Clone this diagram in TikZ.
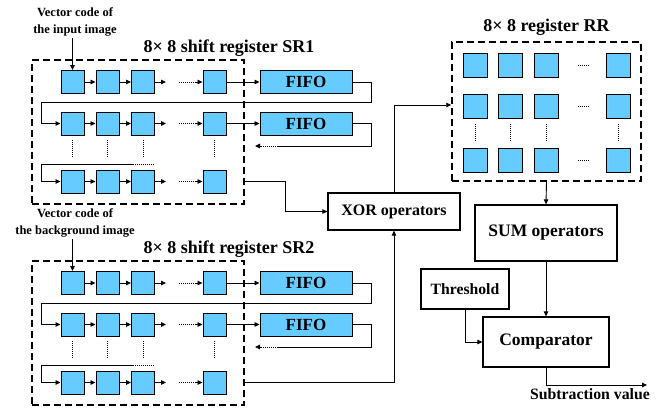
\documentclass[tikz,border=0pt]{standalone}
\usepackage{fontspec}
\setmainfont{Liberation Serif}
\usetikzlibrary{arrows.meta,calc}
\definecolor{cellblue}{RGB}{102,204,255}
\tikzset{
  arr/.style={-{Triangle[length=5pt,width=4.5pt]}},
  wire/.style={line width=0.9pt},
  dotline/.style={line width=1pt,dash pattern=on 1pt off 1pt},
  cell/.style={draw,line width=1pt,fill=cellblue,minimum size=23pt,inner sep=0pt},
  rrcell/.style={draw,line width=1pt,fill=cellblue,minimum size=24pt,inner sep=0pt},
  fifo/.style={draw,line width=1pt,fill=cellblue,minimum width=92pt,minimum height=23pt,inner sep=0pt,
    font=\fontsize{17}{20}\selectfont\bfseries},
  dashbox/.style={draw,line width=1.5pt,dash pattern=on 7pt off 4pt,inner sep=0pt},
  opbox/.style={draw,line width=1.2pt,inner sep=0pt,font=\fontsize{17.5}{20}\selectfont\bfseries},
  title/.style={font=\fontsize{18}{21}\selectfont\bfseries,inner sep=0pt},
  lab/.style={font=\fontsize{12.5}{17}\selectfont\bfseries,align=center,inner sep=0pt},
}
% #1 name prefix, #2 downward offset, #3 input label, #4 title
\newcommand\shiftreg[4]{%
  \begin{scope}[yshift=-#2pt]
    \node[dashbox,minimum width=212pt,minimum height=144pt] (#1-box) at (138,132) {};
    \node[title] (#1-title) at (229,48) {8× 8 shift register #4};
    \node[lab] (#1-lab) at (75,22) {#3};
    \foreach \r/\y in {1/82,2/123.5,3/181.5}{
      \foreach \c/\x in {1/72.5,2/107.5,3/143,4/214.5}
        \node[cell] (#1-\r-\c) at (\x,\y) {};
      \draw[wire,arr] (#1-\r-1) -- (#1-\r-2);
      \draw[wire,arr] (#1-\r-2) -- (#1-\r-3);
      \draw[wire,arr] (#1-\r-3.east) -- ++(11,0);
      \draw[dotline] (179,\y) -- (195,\y);
      \draw[wire,arr] (195,\y) -- (#1-\r-4.west);
    }
    \foreach \x in {72.5,107.5,143,214.5}
      \draw[dotline] (\x,140) -- (\x,158);
    \draw[wire,arr] (#1-1-1 |- 0,38) -- (#1-1-1.north);
    \node[fifo] (#1-f1) at (306,82) {FIFO};
    \node[fifo] (#1-f2) at (306,123.5) {FIFO};
    \draw[wire,arr] (#1-1-4) -- (#1-f1);
    \draw[wire,arr] (#1-2-4) -- (#1-f2);
    \draw[wire,arr] (#1-f1.east) -- (371,82) -- (371,102) -- (41,102) |- (#1-2-1.west);
    \draw[wire] (#1-f2.east) -- (371,123.5) -- (371,146) -- (278,146);
    \draw[dotline,arr] (278,146) -- (255,146);
    \draw[wire,arr] (133,164) -- (41,164) |- (#1-3-1.west);
    \draw[dotline] (133,164) -- (154,164);
  \end{scope}}
\begin{document}
\begin{tikzpicture}[x=1pt,y=-1pt]
  \useasboundingbox (0,0) rectangle (667,408);
  \shiftreg{sra}{0}{Vector code of\\the input image}{SR1}
  \shiftreg{srb}{201}{Vector code of\\the background image}{SR2}

  % result register RR
  \node[dashbox,minimum width=189pt,minimum height=139pt] (rr) at (546.5,111.5) {};
  \node[title] (rrtitle) at (546.5,27) {8× 8 register RR};
  \foreach \r/\y in {1/65,2/106.5,3/160}{
    \foreach \c/\x in {1/475,2/510,3/546,4/618}
      \node[rrcell] (rr-\r-\c) at (\x,\y) {};
    \draw[dotline] (578,\y) -- (589,\y);
  }
  \foreach \x in {475,510,546,618}
    \draw[dotline] (\x,124) -- (\x,142);

  % operators
  \node[opbox,minimum width=132pt,minimum height=37pt,font=\fontsize{16}{19}\selectfont\bfseries] (xor) at (394,211.5) {XOR operators};
  \node[opbox,minimum width=142pt,minimum height=56pt] (sum) at (546,233) {SUM operators};
  \node[opbox,minimum width=88pt,minimum height=40pt,font=\fontsize{15.7}{19}\selectfont\bfseries] (thr) at (465,289) {Threshold};
  \node[opbox,minimum width=126pt,minimum height=50pt] (cmp) at (546,342) {Comparator};
  \coordinate (outend) at (647,385);
  \node[lab,font=\fontsize{15.8}{19}\selectfont\bfseries] (subv) at (590,394) {Subtraction value};

  % connections
  \draw[wire,arr] (sra-3-4 -| sra-box.east) -- ++(41,0) |- (xor.west);
  \draw[wire,arr] (srb-3-4 -| srb-box.east) -| (xor.south);
  \draw[wire,arr] (xor.north) |- ([yshift=6.5pt]rr.west);
  \draw[wire,arr] (rr.south) -- (sum.north);
  \draw[wire,arr] (sum.south) -- (cmp.north);
  \draw[wire,arr] (thr.south) |- (cmp.west);
  \draw[wire,arr] (cmp.south) |- (outend);
\end{tikzpicture}
\end{document}
